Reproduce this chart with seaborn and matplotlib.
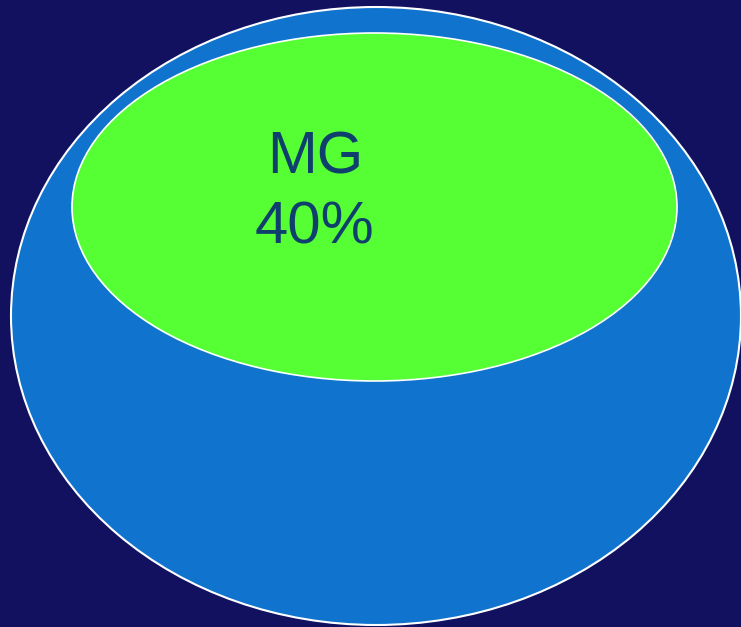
import matplotlib
matplotlib.use("Agg")
import matplotlib.pyplot as plt
from matplotlib.patches import Ellipse
import seaborn as sns

# Share of MG within the whole
labels = ["MG"]
shares = [40]

sns.set_theme(style="white")
plt.rcParams["font.family"] = ["Liberation Sans", "DejaVu Sans"]

BG = "#12115f"
OUTER = "#1074cf"
INNER = "#55ff33"
TEXT = "#0f3f6c"

fig = plt.figure(figsize=(7.41, 6.27), dpi=100, facecolor=BG)
ax = fig.add_axes([0, 0, 1, 1])
ax.set_facecolor(BG)
ax.set_xlim(0, 741)
ax.set_ylim(627, 0)
ax.set_axis_off()

# whole (outer) and the MG part (inner)
ax.add_patch(Ellipse((376, 316), 730, 618, facecolor=OUTER,
                     edgecolor="white", linewidth=1.5))
ax.add_patch(Ellipse((374.5, 207), 605, 348, facecolor=INNER,
                     edgecolor="white", linewidth=1.2))

for lab, val in zip(labels, shares):
    ax.text(315, 173, lab, ha="center", va="baseline",
            fontsize=43, color=TEXT)
    ax.text(315, 244, f"{val}%", ha="center", va="baseline",
            fontsize=43, color=TEXT)

fig.savefig("out.png", dpi=100, facecolor=BG)
